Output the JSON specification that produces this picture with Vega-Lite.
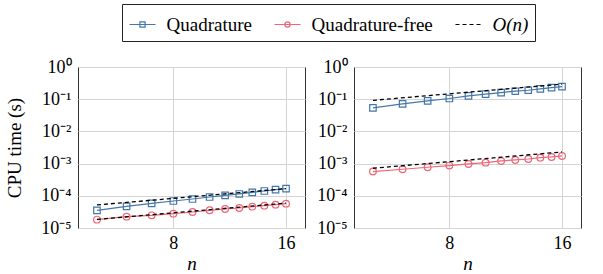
{
  "$schema": "https://vega.github.io/schema/vega-lite/v6.json",
  "padding": {"left": 5, "top": 3, "right": 5, "bottom": 5},
  "background": "white",
  "data": {"values": [
    {"p":"A","s":"Quadrature","g":"Q","n":5,"t":3.54e-5},
    {"p":"A","s":"Quadrature","g":"Q","n":6,"t":4.71e-5},
    {"p":"A","s":"Quadrature","g":"Q","n":7,"t":5.83e-5},
    {"p":"A","s":"Quadrature","g":"Q","n":8,"t":6.9e-5},
    {"p":"A","s":"Quadrature","g":"Q","n":9,"t":7.96e-5},
    {"p":"A","s":"Quadrature","g":"Q","n":10,"t":9.18e-5},
    {"p":"A","s":"Quadrature","g":"Q","n":11,"t":1.03e-4},
    {"p":"A","s":"Quadrature","g":"Q","n":12,"t":1.14e-4},
    {"p":"A","s":"Quadrature","g":"Q","n":13,"t":1.28e-4},
    {"p":"A","s":"Quadrature","g":"Q","n":14,"t":1.41e-4},
    {"p":"A","s":"Quadrature","g":"Q","n":15,"t":1.55e-4},
    {"p":"A","s":"Quadrature","g":"Q","n":16,"t":1.67e-4},
    {"p":"A","s":"Quadrature-free","g":"QF","n":5,"t":1.82e-5},
    {"p":"A","s":"Quadrature-free","g":"QF","n":6,"t":2.25e-5},
    {"p":"A","s":"Quadrature-free","g":"QF","n":7,"t":2.47e-5},
    {"p":"A","s":"Quadrature-free","g":"QF","n":8,"t":2.79e-5},
    {"p":"A","s":"Quadrature-free","g":"QF","n":9,"t":3.14e-5},
    {"p":"A","s":"Quadrature-free","g":"QF","n":10,"t":3.54e-5},
    {"p":"A","s":"Quadrature-free","g":"QF","n":11,"t":3.89e-5},
    {"p":"A","s":"Quadrature-free","g":"QF","n":12,"t":4.18e-5},
    {"p":"A","s":"Quadrature-free","g":"QF","n":13,"t":4.6e-5},
    {"p":"A","s":"Quadrature-free","g":"QF","n":14,"t":4.94e-5},
    {"p":"A","s":"Quadrature-free","g":"QF","n":15,"t":5.31e-5},
    {"p":"A","s":"Quadrature-free","g":"QF","n":16,"t":5.7e-5},
    {"p":"A","s":"O(n)","g":"RQ","n":5,"t":5.2e-5},
    {"p":"A","s":"O(n)","g":"RQ","n":16,"t":1.67e-4},
    {"p":"A","s":"O(n)","g":"RQF","n":5,"t":1.85e-5},
    {"p":"A","s":"O(n)","g":"RQF","n":16,"t":5.92e-5},
    {"p":"B","s":"Quadrature","g":"Q","n":5,"t":0.054},
    {"p":"B","s":"Quadrature","g":"Q","n":6,"t":0.0718},
    {"p":"B","s":"Quadrature","g":"Q","n":7,"t":0.0888},
    {"p":"B","s":"Quadrature","g":"Q","n":8,"t":0.105},
    {"p":"B","s":"Quadrature","g":"Q","n":9,"t":0.127},
    {"p":"B","s":"Quadrature","g":"Q","n":10,"t":0.143},
    {"p":"B","s":"Quadrature","g":"Q","n":11,"t":0.161},
    {"p":"B","s":"Quadrature","g":"Q","n":12,"t":0.177},
    {"p":"B","s":"Quadrature","g":"Q","n":13,"t":0.19},
    {"p":"B","s":"Quadrature","g":"Q","n":14,"t":0.209},
    {"p":"B","s":"Quadrature","g":"Q","n":15,"t":0.23},
    {"p":"B","s":"Quadrature","g":"Q","n":16,"t":0.247},
    {"p":"B","s":"Quadrature-free","g":"QF","n":5,"t":5.66e-4},
    {"p":"B","s":"Quadrature-free","g":"QF","n":6,"t":6.68e-4},
    {"p":"B","s":"Quadrature-free","g":"QF","n":7,"t":7.71e-4},
    {"p":"B","s":"Quadrature-free","g":"QF","n":8,"t":8.67e-4},
    {"p":"B","s":"Quadrature-free","g":"QF","n":9,"t":9.77e-4},
    {"p":"B","s":"Quadrature-free","g":"QF","n":10,"t":1.07e-3},
    {"p":"B","s":"Quadrature-free","g":"QF","n":11,"t":1.21e-3},
    {"p":"B","s":"Quadrature-free","g":"QF","n":12,"t":1.3e-3},
    {"p":"B","s":"Quadrature-free","g":"QF","n":13,"t":1.39e-3},
    {"p":"B","s":"Quadrature-free","g":"QF","n":14,"t":1.53e-3},
    {"p":"B","s":"Quadrature-free","g":"QF","n":15,"t":1.61e-3},
    {"p":"B","s":"Quadrature-free","g":"QF","n":16,"t":1.73e-3},
    {"p":"B","s":"O(n)","g":"RQ","n":5,"t":0.092},
    {"p":"B","s":"O(n)","g":"RQ","n":16,"t":0.294},
    {"p":"B","s":"O(n)","g":"RQF","n":5,"t":7.18e-4},
    {"p":"B","s":"O(n)","g":"RQF","n":16,"t":2.3e-3}
  ]},
  "config": {
    "font": "Liberation Serif",
    "view": {"stroke": "#333333", "strokeWidth": 1},
    "axis": {
      "domain": false,
      "ticks": false,
      "grid": true,
      "gridColor": "#d4d4d4",
      "gridWidth": 1,
      "labelFont": "Liberation Serif",
      "labelFontSize": 18,
      "labelColor": "black",
      "titleFont": "Liberation Serif",
      "titleFontSize": 19,
      "titleFontWeight": "normal",
      "titleColor": "black"
    },
    "legend": {
      "labelFont": "Liberation Serif",
      "labelFontSize": 19,
      "labelColor": "black"
    }
  },
  "spacing": 10,
  "resolve": {"scale": {"color": "shared"}, "legend": {"color": "shared"}},
  "hconcat": [
    {
      "width": 227,
      "height": 161,
      "transform": [{"filter": "datum.p === 'A'"}],
      "encoding": {
        "x": {"field": "n", "type": "quantitative",
          "scale": {"type": "log", "base": 2, "domain": [4.45, 17.98], "nice": false, "zero": false},
          "axis": {"values": [8, 16], "format": "d", "title": "n", "titleFontStyle": "italic", "labelFont": "Liberation Serif", "titleFont": "Liberation Serif", "labelPadding": 6, "titlePadding": 2, "labelFlush": false}},
        "y": {"field": "t", "type": "quantitative",
          "scale": {"type": "log", "domain": [1e-5, 1], "nice": false},
          "axis": {"values": [1e-5, 1e-4, 1e-3, 1e-2, 1e-1, 1], "labelExpr": "'10' + ['⁻⁵','⁻⁴','⁻³','⁻²','⁻¹','⁰'][round(log(datum.value)/LN10)+5]", "title": "CPU time (s)", "labelFont": "Liberation Serif", "titleFont": "Liberation Serif", "labelPadding": 7, "titlePadding": 16, "labelFlush": false}}
      },
      "layer": [
        {
          "transform": [{"filter": "datum.s !== 'O(n)'"}],
          "mark": {"type": "line", "strokeWidth": 1.2},
          "encoding": {
            "detail": {"field": "g"},
            "color": {"field": "s", "type": "nominal",
              "scale": {"domain": ["Quadrature", "Quadrature-free", "O(n)"], "range": ["#4477AA", "#EE6677", "#000000"]},
              "legend": {"title": null, "orient": "none", "legendX": 44, "legendY": -63, "direction": "horizontal", "columns": 3,
                "strokeColor": "#222222", "padding": 6.5, "cornerRadius": 0, "symbolSize": 676, "symbolStrokeWidth": 1.2,
                "labelFont": "Liberation Serif", "labelFontSize": 19, "labelColor": "black",
                "labelOffset": 10, "columnPadding": 19, "symbolType": "stroke",
                "encode": {
                  "symbols": {"update": {
                    "shape": {"signal": "datum.value === 'Quadrature' ? 'M-1,0H1M-0.2,-0.2H0.2V0.2H-0.2Z' : datum.value === 'Quadrature-free' ? 'M-1,0H1M0.2,0A0.2,0.2,0,1,1,-0.2,0A0.2,0.2,0,1,1,0.2,0' : 'M-1,0H1'"},
                    "strokeDash": {"signal": "datum.value === 'O(n)' ? [4,3] : []"},
                    "fill": {"value": "transparent"},
                    "strokeWidth": {"value": 1.2}
                  }},
                  "labels": {"update": {
                    "font": {"value": "Liberation Serif"},
                    "fontStyle": {"signal": "datum.value === 'O(n)' ? 'italic' : 'normal'"}}}
                }}}
          }
        },
        {
          "transform": [{"filter": "datum.s === 'Quadrature'"}],
          "mark": {"type": "point", "shape": "square", "filled": false, "size": 42, "strokeWidth": 1.2, "opacity": 1},
          "encoding": {"color": {"field": "s", "type": "nominal"}}
        },
        {
          "transform": [{"filter": "datum.s === 'Quadrature-free'"}],
          "mark": {"type": "point", "shape": "circle", "filled": false, "size": 45, "strokeWidth": 1.2, "opacity": 1},
          "encoding": {"color": {"field": "s", "type": "nominal"}}
        },
        {
          "transform": [{"filter": "datum.s === 'O(n)'"}],
          "mark": {"type": "line", "strokeWidth": 1.3, "strokeDash": [4, 3]},
          "encoding": {"detail": {"field": "g"}, "color": {"field": "s", "type": "nominal"}}
        }
      ]
    },
    {
      "width": 227,
      "height": 161,
      "transform": [{"filter": "datum.p === 'B'"}],
      "encoding": {
        "x": {"field": "n", "type": "quantitative",
          "scale": {"type": "log", "base": 2, "domain": [4.45, 17.98], "nice": false, "zero": false},
          "axis": {"values": [8, 16], "format": "d", "title": "n", "titleFontStyle": "italic", "labelFont": "Liberation Serif", "titleFont": "Liberation Serif", "labelPadding": 6, "titlePadding": 2, "labelFlush": false}},
        "y": {"field": "t", "type": "quantitative",
          "scale": {"type": "log", "domain": [1e-5, 1], "nice": false},
          "axis": {"values": [1e-5, 1e-4, 1e-3, 1e-2, 1e-1, 1], "labelExpr": "'10' + ['⁻⁵','⁻⁴','⁻³','⁻²','⁻¹','⁰'][round(log(datum.value)/LN10)+5]", "title": null, "labelFont": "Liberation Serif", "labelPadding": 7, "labelFlush": false}}
      },
      "layer": [
        {
          "transform": [{"filter": "datum.s !== 'O(n)'"}],
          "mark": {"type": "line", "strokeWidth": 1.2},
          "encoding": {"detail": {"field": "g"}, "color": {"field": "s", "type": "nominal"}}
        },
        {
          "transform": [{"filter": "datum.s === 'Quadrature'"}],
          "mark": {"type": "point", "shape": "square", "filled": false, "size": 42, "strokeWidth": 1.2, "opacity": 1},
          "encoding": {"color": {"field": "s", "type": "nominal"}}
        },
        {
          "transform": [{"filter": "datum.s === 'Quadrature-free'"}],
          "mark": {"type": "point", "shape": "circle", "filled": false, "size": 45, "strokeWidth": 1.2, "opacity": 1},
          "encoding": {"color": {"field": "s", "type": "nominal"}}
        },
        {
          "transform": [{"filter": "datum.s === 'O(n)'"}],
          "mark": {"type": "line", "strokeWidth": 1.3, "strokeDash": [4, 3]},
          "encoding": {"detail": {"field": "g"}, "color": {"field": "s", "type": "nominal"}}
        }
      ]
    }
  ]
}
